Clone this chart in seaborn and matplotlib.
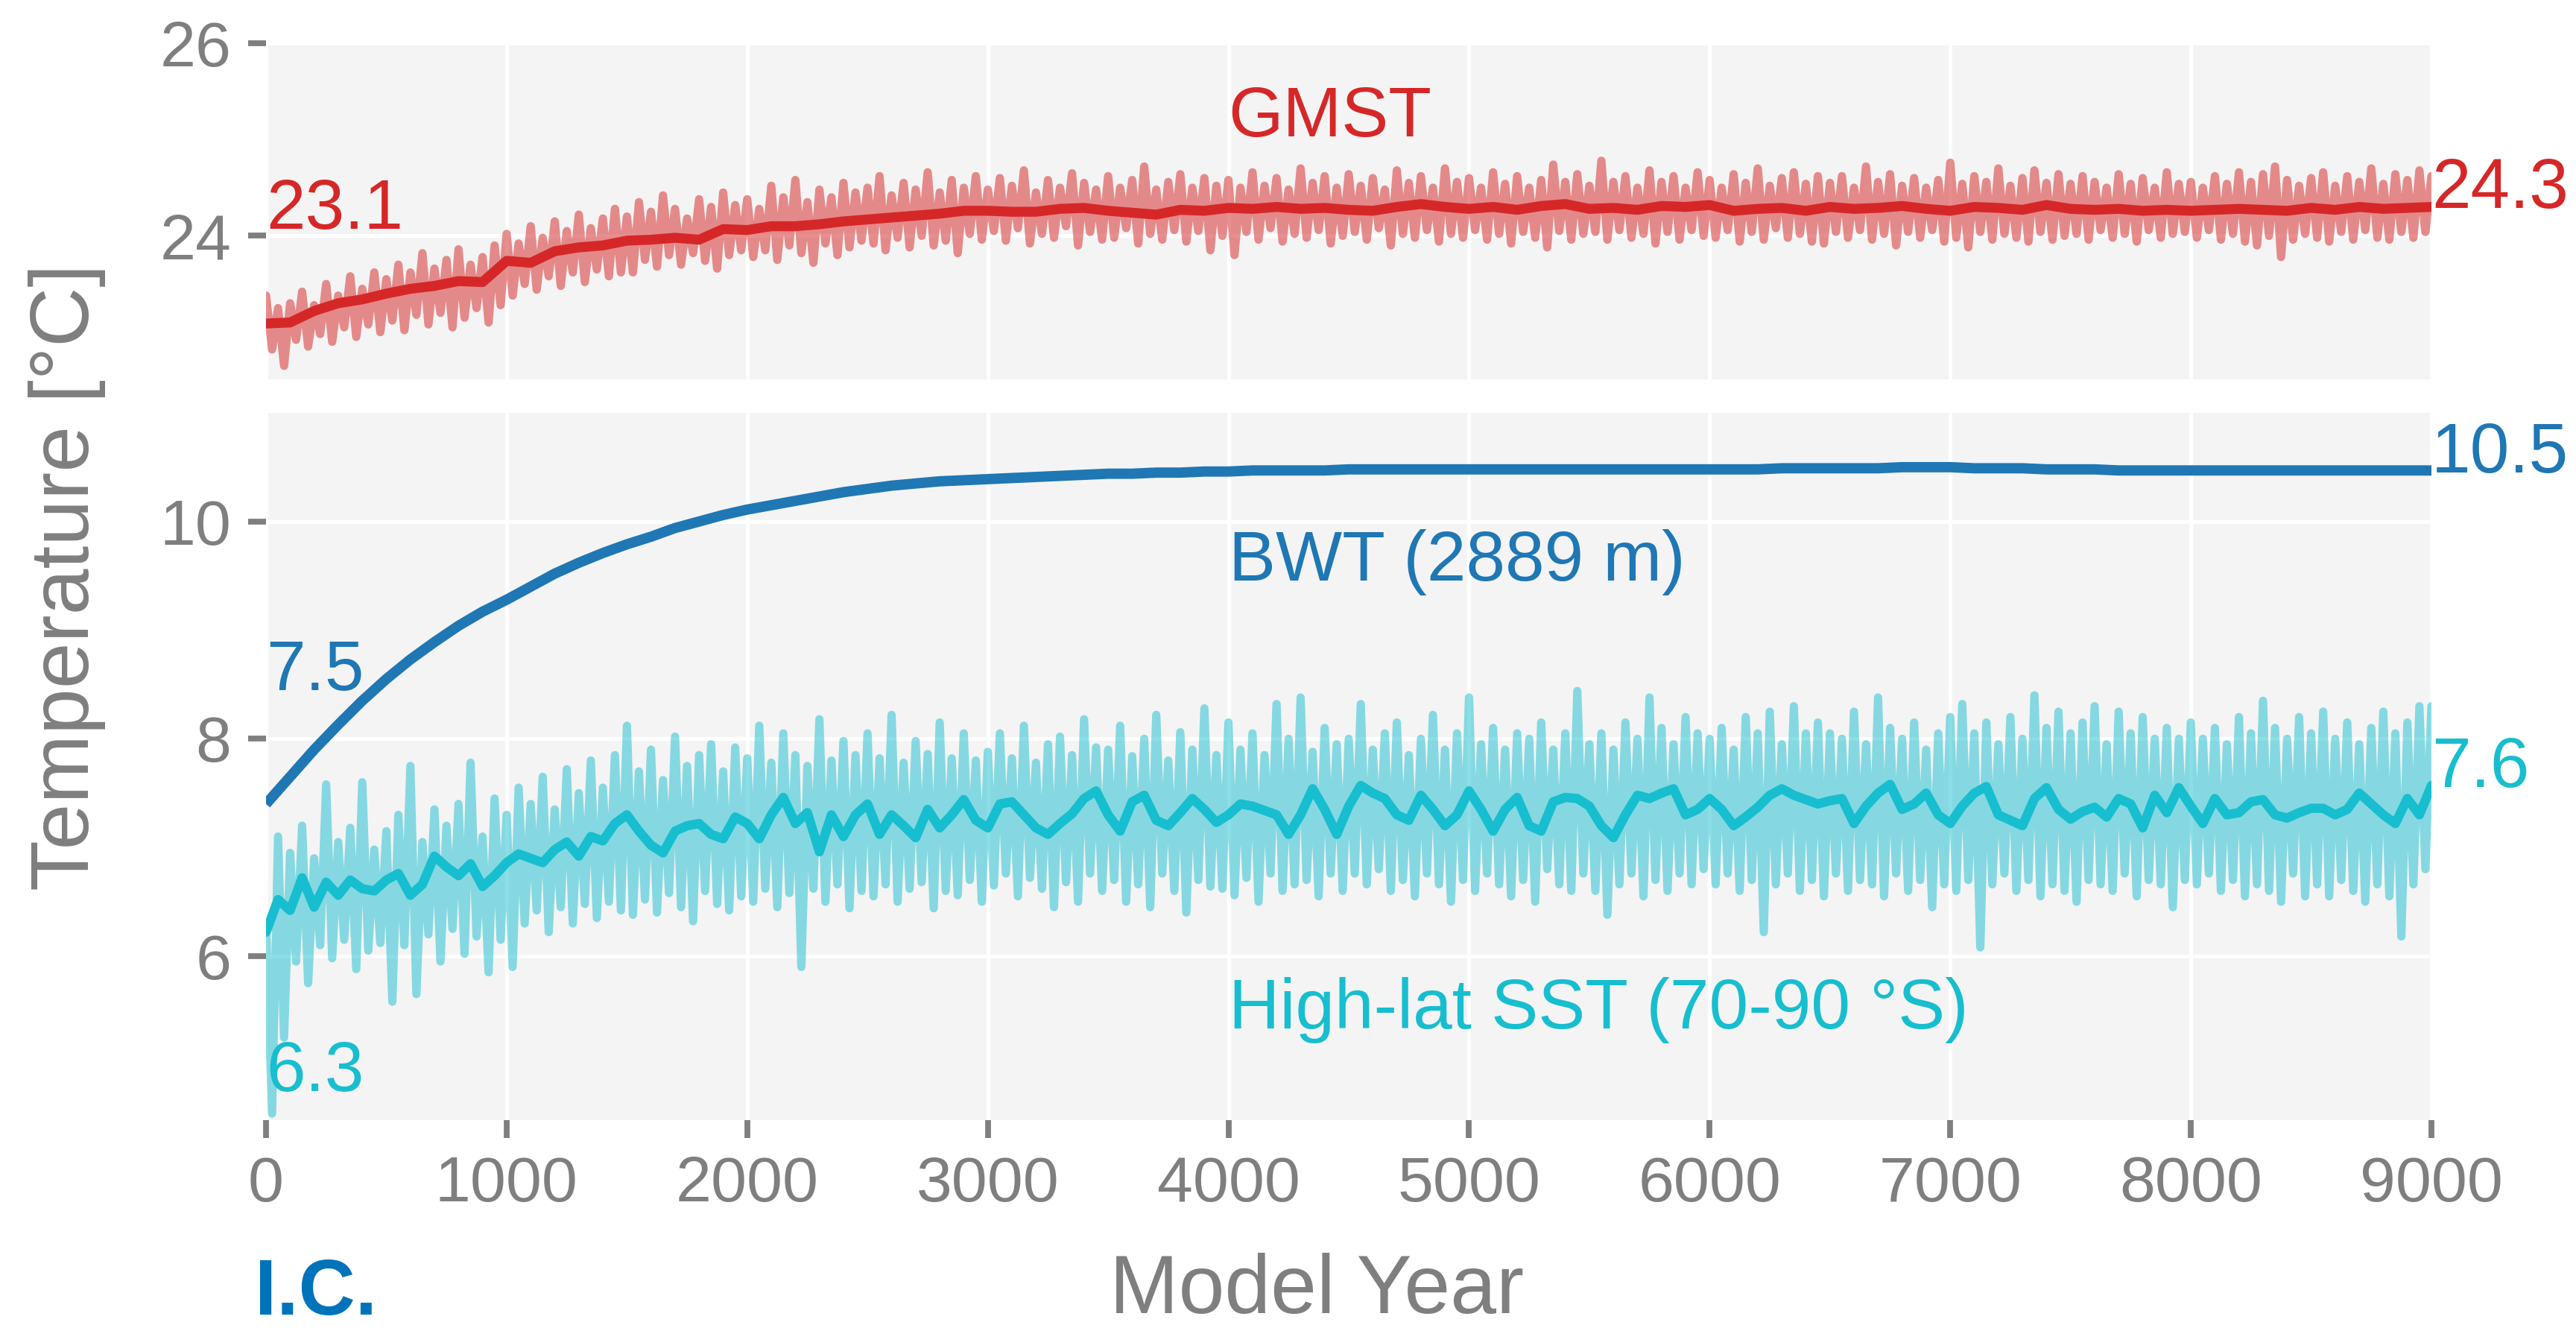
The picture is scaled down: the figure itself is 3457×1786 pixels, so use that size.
import numpy as np
import pandas as pd
import matplotlib
matplotlib.use("Agg")
import matplotlib.pyplot as plt
import seaborn as sns

# ---------------- data ----------------
years_raw = np.arange(0, 9001, 25)    # 361 samples of the raw series
years_50 = np.arange(0, 9001, 50)     # 181 samples of the SST running mean
years_100 = np.arange(0, 9001, 100)   # 91 samples of the smooth curves

gmst_raw = [
    23.38, 22.82, 23.25, 22.65, 23.30, 22.92, 23.42, 22.85, 23.28, 22.98, 23.50, 22.90, 23.38, 23.05, 23.58, 22.95, 23.45, 23.08, 23.62, 23.00,
    23.55, 23.12, 23.70, 23.02, 23.62, 23.18, 23.82, 23.08, 23.66, 23.20, 23.75, 23.05, 23.86, 23.15, 23.70, 23.25, 23.78, 23.10, 23.90, 23.28,
    24.02, 23.38, 23.92, 23.50, 24.10, 23.44, 23.98, 23.58, 24.15, 23.48, 24.05, 23.62, 24.22, 23.52, 24.08, 23.65, 24.18, 23.58, 24.28, 23.62,
    24.20, 23.62, 24.35, 23.75, 24.25, 23.68, 24.42, 23.80, 24.28, 23.70, 24.18, 23.82, 24.38, 23.74, 24.30, 23.66, 24.45, 23.80, 24.32, 23.85,
    24.38, 23.78, 24.28, 23.85, 24.52, 23.75, 24.40, 23.90, 24.58, 23.82, 24.35, 23.72, 24.48, 23.92, 24.40, 23.80, 24.55, 23.88, 24.45, 23.95,
    24.50, 23.92, 24.62, 23.85, 24.42, 23.98, 24.55, 23.88, 24.48, 24.00, 24.66, 23.90, 24.45, 23.95, 24.58, 23.82, 24.50, 24.02, 24.62, 23.96,
    24.48, 24.05, 24.60, 23.95, 24.52, 24.08, 24.68, 23.92, 24.45, 24.02, 24.58, 23.98, 24.50, 24.10, 24.65, 23.90, 24.55, 24.04, 24.48, 23.96,
    24.62, 23.98, 24.50, 24.08, 24.58, 23.92, 24.72, 24.02, 24.48, 23.96, 24.56, 24.06, 24.64, 23.94, 24.50, 24.05, 24.60, 23.85, 24.52, 24.00,
    24.58, 23.80, 24.50, 24.04, 24.66, 23.96, 24.52, 24.08, 24.60, 23.94, 24.48, 24.02, 24.70, 23.98, 24.55, 24.06, 24.62, 23.92, 24.50, 24.00,
    24.64, 24.04, 24.52, 23.96, 24.60, 24.08, 24.48, 23.90, 24.68, 24.02, 24.55, 23.98, 24.62, 24.06, 24.50, 23.94, 24.70, 24.02, 24.56, 23.98,
    24.60, 24.06, 24.50, 23.96, 24.66, 24.02, 24.54, 23.92, 24.62, 24.04, 24.50, 23.98, 24.58, 23.88, 24.74, 24.05, 24.56, 23.96, 24.64, 24.02,
    24.52, 24.04, 24.78, 23.96, 24.56, 24.06, 24.62, 23.98, 24.50, 24.02, 24.68, 23.92, 24.56, 24.04, 24.62, 23.96, 24.50, 24.06, 24.66, 24.00,
    24.58, 23.98, 24.50, 24.06, 24.64, 23.94, 24.55, 24.04, 24.70, 23.96, 24.52, 24.08, 24.60, 23.98, 24.66, 24.02, 24.54, 23.94, 24.62, 23.92,
    24.55, 24.04, 24.62, 23.98, 24.50, 24.06, 24.72, 23.96, 24.56, 24.02, 24.64, 23.90, 24.52, 24.04, 24.60, 23.98, 24.50, 24.06, 24.58, 23.94,
    24.76, 23.98, 24.54, 23.88, 24.62, 24.04, 24.56, 23.96, 24.70, 24.02, 24.52, 23.98, 24.60, 23.94, 24.68, 24.04, 24.55, 23.96, 24.64, 24.00,
    24.54, 24.02, 24.62, 23.96, 24.56, 24.06, 24.50, 23.98, 24.64, 24.02, 24.54, 23.94, 24.60, 24.06, 24.50, 23.98, 24.66, 24.02, 24.54, 24.04,
    24.56, 23.98, 24.50, 24.06, 24.62, 23.96, 24.54, 24.02, 24.66, 23.94, 24.56, 23.90, 24.64, 24.00, 24.72, 23.78, 24.58, 23.96, 24.52, 24.02,
    24.60, 23.98, 24.66, 23.94, 24.52, 24.04, 24.62, 23.96, 24.56, 24.06, 24.70, 23.98, 24.54, 23.96, 24.64, 24.04, 24.58, 23.98, 24.68, 24.04,
    24.62,
]

gmst_smooth = [
    23.09, 23.10, 23.22, 23.30, 23.34, 23.40, 23.45, 23.48, 23.53, 23.52,
    23.74, 23.72, 23.84, 23.88, 23.90, 23.95, 23.96, 23.98, 23.96, 24.07,
    24.06, 24.10, 24.10, 24.12, 24.15, 24.17, 24.19, 24.21, 24.23, 24.26,
    24.26, 24.25, 24.25, 24.28, 24.29, 24.26, 24.24, 24.22, 24.27, 24.26,
    24.29, 24.28, 24.30, 24.28, 24.29, 24.27, 24.26, 24.30, 24.33, 24.30,
    24.28, 24.30, 24.27, 24.31, 24.33, 24.28, 24.29, 24.27, 24.31, 24.30,
    24.32, 24.26, 24.28, 24.29, 24.26, 24.30, 24.28, 24.29, 24.31, 24.28,
    24.26, 24.30, 24.29, 24.27, 24.32, 24.28, 24.27, 24.28, 24.26, 24.27,
    24.26, 24.27, 24.28, 24.27, 24.26, 24.29, 24.27, 24.30, 24.28, 24.29,
    24.30,
]

bwt = [
    7.40, 7.65, 7.90, 8.13, 8.35, 8.55, 8.73, 8.89, 9.04, 9.17,
    9.28, 9.40, 9.52, 9.62, 9.71, 9.79, 9.86, 9.94, 10.00, 10.06,
    10.11, 10.15, 10.19, 10.23, 10.27, 10.30, 10.33, 10.35, 10.37, 10.38,
    10.39, 10.40, 10.41, 10.42, 10.43, 10.44, 10.44, 10.45, 10.45, 10.46,
    10.46, 10.47, 10.47, 10.47, 10.47, 10.48, 10.48, 10.48, 10.48, 10.48,
    10.48, 10.48, 10.48, 10.48, 10.48, 10.48, 10.48, 10.48, 10.48, 10.48,
    10.48, 10.48, 10.48, 10.49, 10.49, 10.49, 10.49, 10.49, 10.50, 10.50,
    10.50, 10.49, 10.49, 10.49, 10.48, 10.48, 10.48, 10.47, 10.47, 10.47,
    10.47, 10.47, 10.47, 10.47, 10.47, 10.47, 10.47, 10.47, 10.47, 10.47,
    10.47,
]

sst_raw = [
    6.30, 4.55, 7.10, 5.25, 6.95, 5.95, 7.20, 5.75, 6.90, 6.10, 7.58, 5.98, 7.05, 6.15, 7.18, 5.88, 7.60, 6.05, 6.98, 6.12,
    7.15, 5.58, 7.30, 6.10, 7.75, 5.65, 7.05, 6.20, 7.35, 5.95, 7.20, 6.25, 7.40, 6.02, 7.78, 6.18, 7.10, 5.85, 7.45, 6.15,
    7.30, 5.90, 7.55, 6.30, 7.40, 6.42, 7.65, 6.22, 7.35, 6.45, 7.72, 6.30, 7.50, 6.48, 7.80, 6.35, 7.55, 6.50, 7.85, 6.42,
    8.12, 6.38, 7.70, 6.52, 7.90, 6.40, 7.62, 6.58, 8.02, 6.45, 7.75, 6.32, 7.85, 6.60, 7.95, 6.48, 7.70, 6.42, 7.92, 6.55,
    7.82, 6.50, 8.12, 6.62, 7.78, 6.45, 8.05, 6.58, 7.85, 5.90, 7.75, 6.62, 8.18, 6.50, 7.80, 6.66, 7.98, 6.44, 7.85, 6.60,
    8.05, 6.55, 7.82, 6.66, 8.22, 6.50, 7.78, 6.62, 7.98, 6.68, 7.86, 6.44, 8.15, 6.60, 7.82, 6.56, 8.05, 6.70, 7.80, 6.50,
    7.88, 6.65, 8.05, 6.76, 7.82, 6.55, 8.12, 6.72, 7.78, 6.62, 7.95, 6.45, 8.02, 6.68, 7.85, 6.50, 8.18, 6.76, 7.92, 6.60,
    7.90, 6.70, 8.12, 6.50, 7.84, 6.66, 8.00, 6.45, 8.22, 6.76, 7.80, 6.60, 8.06, 6.40, 7.90, 6.70, 8.28, 6.64, 7.85, 6.62,
    8.15, 6.56, 7.90, 6.72, 8.05, 6.50, 7.85, 6.76, 8.32, 6.60, 8.00, 6.66, 8.38, 6.70, 7.88, 6.55, 8.10, 6.76, 7.95, 6.60,
    8.00, 6.76, 8.32, 6.66, 7.90, 6.80, 8.05, 6.60, 8.15, 6.70, 7.85, 6.55, 8.00, 6.76, 8.22, 6.66, 7.90, 6.50, 8.05, 6.70,
    8.38, 6.60, 7.95, 6.76, 8.10, 6.66, 7.90, 6.55, 8.05, 6.70, 8.00, 6.50, 8.15, 6.80, 7.90, 6.66, 8.05, 6.60, 8.44, 6.76,
    7.95, 6.60, 8.05, 6.38, 7.90, 6.66, 8.15, 6.76, 8.00, 6.55, 8.38, 6.70, 8.10, 6.60, 7.95, 6.76, 8.20, 6.66, 8.05, 6.80,
    8.00, 6.66, 8.10, 6.76, 7.90, 6.60, 8.20, 6.70, 8.05, 6.22, 8.25, 6.66, 7.95, 6.76, 8.30, 6.60, 8.05, 6.70, 8.15, 6.55,
    8.05, 6.76, 8.00, 6.60, 8.25, 6.70, 7.95, 6.66, 8.38, 6.55, 8.10, 6.76, 8.00, 6.60, 8.15, 6.70, 7.90, 6.45, 8.05, 6.66,
    8.20, 6.60, 8.32, 6.70, 8.05, 6.08, 8.15, 6.66, 7.95, 6.76, 8.20, 6.60, 8.00, 6.70, 8.40, 6.55, 8.10, 6.66, 8.25, 6.60,
    8.05, 6.50, 8.15, 6.70, 8.30, 6.66, 7.95, 6.60, 8.25, 6.76, 8.05, 6.55, 8.20, 6.70, 8.00, 6.66, 8.10, 6.45, 8.00, 6.70,
    8.15, 6.66, 8.00, 6.76, 8.10, 6.60, 7.95, 6.70, 8.20, 6.55, 8.05, 6.66, 8.35, 6.60, 8.10, 6.50, 8.00, 6.76, 8.20, 6.55,
    8.05, 6.66, 8.25, 6.55, 8.00, 6.70, 8.15, 6.60, 7.95, 6.50, 8.10, 6.66, 8.25, 6.55, 8.05, 6.18, 8.15, 6.66, 8.30, 6.80,
    8.30,
]

sst_smooth = [
    6.22, 6.52, 6.42, 6.72, 6.45, 6.68, 6.56, 6.70, 6.62, 6.60,
    6.70, 6.76, 6.56, 6.66, 6.92, 6.82, 6.74, 6.85, 6.64, 6.74,
    6.86, 6.94, 6.90, 6.86, 6.98, 7.05, 6.92, 7.10, 7.06, 7.22,
    7.30, 7.15, 7.02, 6.95, 7.15, 7.20, 7.22, 7.12, 7.08, 7.28,
    7.22, 7.08, 7.30, 7.46, 7.22, 7.32, 6.96, 7.30, 7.10, 7.30,
    7.40, 7.12, 7.30, 7.20, 7.09, 7.35, 7.18, 7.30, 7.44, 7.25,
    7.18, 7.40, 7.42, 7.30, 7.18, 7.12, 7.22, 7.31, 7.45, 7.52,
    7.30, 7.15, 7.42, 7.48, 7.25, 7.20, 7.32, 7.45, 7.35, 7.23,
    7.30, 7.40, 7.38, 7.34, 7.30, 7.12, 7.30, 7.54, 7.35, 7.12,
    7.38, 7.57, 7.50, 7.45, 7.30, 7.25, 7.48, 7.35, 7.20, 7.30,
    7.52, 7.35, 7.15, 7.35, 7.46, 7.20, 7.15, 7.42, 7.46, 7.45,
    7.38, 7.20, 7.09, 7.30, 7.48, 7.45, 7.50, 7.54, 7.30, 7.35,
    7.45, 7.35, 7.20, 7.28, 7.37, 7.48, 7.54, 7.48, 7.44, 7.40,
    7.43, 7.45, 7.22, 7.38, 7.50, 7.58, 7.35, 7.40, 7.50, 7.30,
    7.22, 7.38, 7.50, 7.56, 7.30, 7.25, 7.20, 7.45, 7.55, 7.35,
    7.26, 7.33, 7.37, 7.28, 7.45, 7.40, 7.18, 7.48, 7.32, 7.55,
    7.38, 7.22, 7.45, 7.30, 7.32, 7.42, 7.44, 7.30, 7.27, 7.32,
    7.36, 7.36, 7.30, 7.35, 7.50, 7.40, 7.30, 7.22, 7.45, 7.30,
    7.57,
]

x_ticks = [0, 1000, 2000, 3000, 4000, 5000, 6000, 7000, 8000, 9000]
top_yticks = [24, 26]
bot_yticks = [6, 8, 10]

# ---------------- style ----------------
RED = "#d62728"
BLUE = "#1f77b4"
CYAN = "#17becf"
GREY = "#7f7f7f"
PANEL = "#f4f4f4"

sns.set_theme(style="darkgrid", rc={
    "axes.facecolor": PANEL,
    "grid.color": "white",
    "grid.linewidth": 1.8,
})
plt.rcParams["font.family"] = ["Liberation Sans", "DejaVu Sans"]

fig = plt.figure(figsize=(3457 / 200, 1786 / 200), dpi=200)
fig.patch.set_facecolor("white")

ax_top = fig.add_axes([0.10327, 0.71501, 0.84061, 0.25252])
ax_bot = fig.add_axes([0.10327, 0.15845, 0.84061, 0.53136])

RAW_LW = 4.0

# ---------------- top panel: GMST ----------------
df_gmst_raw = pd.DataFrame({"year": years_raw, "T": gmst_raw})
df_gmst_sm = pd.DataFrame({"year": years_100, "T": gmst_smooth})
sns.lineplot(data=df_gmst_raw, x="year", y="T", ax=ax_top, color=RED, alpha=0.52,
             linewidth=RAW_LW, estimator=None, sort=False, legend=False,
             solid_joinstyle="round", solid_capstyle="round")
sns.lineplot(data=df_gmst_sm, x="year", y="T", ax=ax_top, color=RED,
             linewidth=4.8, estimator=None, sort=False, legend=False,
             solid_joinstyle="round", solid_capstyle="round")

# ---------------- bottom panel: BWT and high-lat SST ----------------
df_bwt = pd.DataFrame({"year": years_100, "T": bwt})
df_sst_raw = pd.DataFrame({"year": years_raw, "T": sst_raw})
df_sst_sm = pd.DataFrame({"year": years_50, "T": sst_smooth})
sns.lineplot(data=df_sst_raw, x="year", y="T", ax=ax_bot, color=CYAN, alpha=0.5,
             linewidth=RAW_LW, estimator=None, sort=False, legend=False,
             solid_joinstyle="round", solid_capstyle="round")
sns.lineplot(data=df_sst_sm, x="year", y="T", ax=ax_bot, color=CYAN,
             linewidth=4.5, estimator=None, sort=False, legend=False,
             solid_joinstyle="round", solid_capstyle="round")
sns.lineplot(data=df_bwt, x="year", y="T", ax=ax_bot, color=BLUE,
             linewidth=5.0, estimator=None, sort=False, legend=False,
             solid_joinstyle="round", solid_capstyle="butt")

# ---------------- axes formatting ----------------
for ax in (ax_top, ax_bot):
    ax.set_xlim(0, 9000)
    ax.set_xticks(x_ticks)
    ax.set_xlabel("")
    ax.set_ylabel("")
    for s in ax.spines.values():
        s.set_visible(False)
    ax.grid(True, color="white", linewidth=1.8)
    ax.set_axisbelow(True)
    ax.tick_params(axis="both", which="major", colors=GREY, labelcolor=GREY,
                   labelsize=31, length=8.6, width=2.8, pad=8.3,
                   direction="out", bottom=True, left=True)

ax_top.set_ylim(22.51, 26.0)
ax_top.set_yticks(top_yticks)
ax_top.tick_params(axis="x", length=0, labelbottom=False)

ax_bot.set_ylim(4.49, 11.0)
ax_bot.set_yticks(bot_yticks)
ax_bot.set_xticklabels([str(v) for v in x_ticks])

# ---------------- in-plot annotations ----------------
FS = 34
ax_top.text(4000, 25.036, "GMST", color=RED, fontsize=FS, ha="left", va="baseline")
ax_top.text(0, 24.07, "23.1", color=RED, fontsize=FS, ha="left", va="baseline", clip_on=False)
ax_top.text(9000, 24.286, "24.3", color=RED, fontsize=FS, ha="left", va="baseline", clip_on=False)

ax_bot.text(4000, 9.459, "BWT (2889 m)", color=BLUE, fontsize=FS, ha="left", va="baseline")
ax_bot.text(0, 8.447, "7.5", color=BLUE, fontsize=FS, ha="left", va="baseline", clip_on=False)
ax_bot.text(9000, 10.45, "10.5", color=BLUE, fontsize=FS, ha="left", va="baseline", clip_on=False)

ax_bot.text(4000, 5.335, "High-lat SST (70-90 °S)", color=CYAN, fontsize=FS, ha="left", va="baseline")
ax_bot.text(0, 4.755, "6.3", color=CYAN, fontsize=FS, ha="left", va="baseline", clip_on=False)
ax_bot.text(9000, 7.559, "7.6", color=CYAN, fontsize=FS, ha="left", va="baseline", clip_on=False)

# ---------------- figure labels ----------------
fig.text(0.0259, 0.5666, "Temperature [°C]", rotation=90, ha="center", va="center",
         fontsize=40, color=GREY)
fig.text(0.5111, 0.0135, "Model Year", ha="center", va="baseline", fontsize=40, color=GREY)
fig.text(0.0989, 0.0125, "I.C.", ha="left", va="baseline", fontsize=38,
         fontweight="bold", color="#0073ba")

fig.savefig("out.png", dpi=200, facecolor="white")
